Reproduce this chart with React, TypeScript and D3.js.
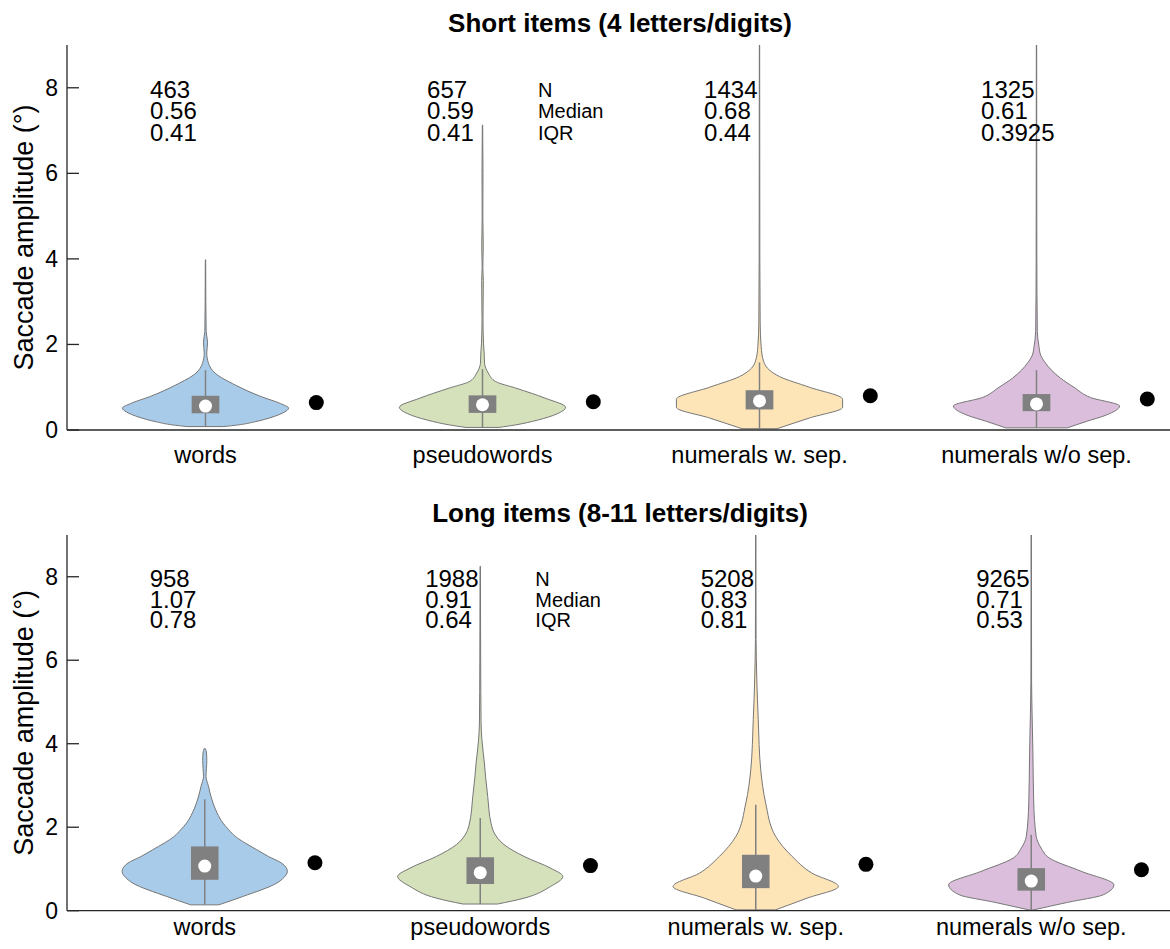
import * as d3 from "d3";

const categories = ["words", "pseudowords", "numerals w. sep.", "numerals w/o sep."];
const panelTitles = ["Short items (4 letters/digits)", "Long items (8-11 letters/digits)"];
const yTicks = [0, 2, 4, 6, 8];
const statLabels = ["N", "Median", "IQR"];
const violinColors = ["#a9cbea", "#d5e1bb", "#fde5b8", "#dabedb"];

// short items
const shortN = [463, 657, 1434, 1325];
const shortMedian = [0.56, 0.59, 0.68, 0.61];
const shortIQR = [0.41, 0.41, 0.44, 0.3925];
const shortQ1 = [0.39, 0.4, 0.48, 0.44];
const shortQ3 = [0.8, 0.81, 0.93, 0.84];
const shortWhiskerLo = [0.08, 0.06, 0.03, 0.05];
const shortWhiskerHi = [1.4, 1.42, 1.58, 1.4];
const shortMean = [0.64, 0.66, 0.8, 0.725];

// [value, relative width]
const shortWordsDensity = [[0.08, 0.22], [0.12, 0.4], [0.19, 0.59], [0.3, 0.8], [0.42, 0.95], [0.51, 1.0], [0.62, 0.9], [0.78, 0.67], [1.05, 0.36], [1.33, 0.115], [1.56, 0.036], [1.8, 0.015], [2.05, 0.025], [2.3, 0.008], [3.0, 0.004], [3.98, 0.002]];
const shortPseudoDensity = [[0.06, 0.2], [0.12, 0.4], [0.23, 0.66], [0.38, 0.9], [0.53, 1.0], [0.74, 0.76], [0.98, 0.4], [1.13, 0.16], [1.33, 0.07], [1.56, 0.025], [1.8, 0.02], [2.03, 0.012], [2.6, 0.006], [3.5, 0.01], [3.8, 0.004], [4.3, 0.009], [5.0, 0.004], [6.0, 0.006], [7.13, 0.002]];
const shortSepDensity = [[0.03, 0.21], [0.28, 0.6], [0.53, 1.0], [0.72, 1.0], [1.0, 0.6], [1.25, 0.24], [1.4, 0.12], [1.6, 0.05], [1.95, 0.02], [2.5, 0.008], [4, 0.004], [9, 0.002]];
const shortNoSepDensity = [[0.05, 0.37], [0.2, 0.6], [0.35, 0.84], [0.56, 1.0], [0.76, 0.65], [1.0, 0.45], [1.21, 0.29], [1.4, 0.18], [1.56, 0.11], [1.75, 0.05], [1.95, 0.03], [2.3, 0.01], [4, 0.004], [9, 0.002]];

// long items
const longN = [958, 1988, 5208, 9265];
const longMedian = [1.07, 0.91, 0.83, 0.71];
const longIQR = [0.78, 0.64, 0.81, 0.53];
const longQ1 = [0.74, 0.64, 0.54, 0.48];
const longQ3 = [1.54, 1.28, 1.34, 1.02];
const longWhiskerLo = [0.14, 0.16, 0.02, 0.02];
const longWhiskerHi = [2.67, 2.22, 2.54, 1.82];
const longMean = [1.15, 1.08, 1.11, 0.98];

const longWordsDensity = [[0.14, 0.17], [0.34, 0.46], [0.66, 0.87], [0.8, 0.96], [0.94, 1.0], [1.14, 0.93], [1.3, 0.77], [1.46, 0.63], [1.62, 0.49], [1.78, 0.37], [1.94, 0.29], [2.1, 0.22], [2.34, 0.15], [2.58, 0.1], [2.82, 0.064], [2.98, 0.045], [3.22, 0.015], [3.4, 0.02], [3.6, 0.025], [3.8, 0.02], [3.88, 0.008]];
const longPseudoDensity = [[0.16, 0.21], [0.3, 0.53], [0.58, 0.85], [0.82, 1.0], [1.02, 0.85], [1.3, 0.53], [1.58, 0.29], [1.86, 0.17], [2.1, 0.13], [2.74, 0.09], [3.2, 0.065], [3.54, 0.05], [3.8, 0.035], [4.1, 0.02], [4.5, 0.01], [6, 0.005], [8.25, 0.002]];
const longSepDensity = [[0.02, 0.24], [0.3, 0.62], [0.58, 1.0], [0.9, 0.68], [1.3, 0.44], [1.78, 0.24], [2.58, 0.12], [3.38, 0.06], [4.58, 0.03], [5.6, 0.012], [6.5, 0.004], [9, 0.002]];
const longNoSepDensity = [[0.02, 0.03], [0.2, 0.44], [0.38, 0.87], [0.62, 1.0], [0.94, 0.61], [1.26, 0.22], [1.5, 0.12], [1.78, 0.06], [2.58, 0.03], [3.78, 0.02], [4.74, 0.01], [5.5, 0.004], [9, 0.002]];

const FONT = "'Liberation Sans', Arial, Helvetica, sans-serif";
const GRAY = "#808080";
const EDGE = "#767676";
const AXIS = "#262626";

const panels = [
  {
    title: panelTitles[0], titleY: 32, top: 45, zero: 430, step: 277, labelY: 463,
    n: shortN, median: shortMedian, iqr: shortIQR, q1: shortQ1, q3: shortQ3,
    lo: shortWhiskerLo, hi: shortWhiskerHi, mean: shortMean,
    density: [shortWordsDensity, shortPseudoDensity, shortSepDensity, shortNoSepDensity],
  },
  {
    title: panelTitles[1], titleY: 522, top: 535, zero: 910.7, step: 275.5, labelY: 935,
    n: longN, median: longMedian, iqr: longIQR, q1: longQ1, q3: longQ3,
    lo: longWhiskerLo, hi: longWhiskerHi, mean: longMean,
    density: [longWordsDensity, longPseudoDensity, longSepDensity, longNoSepDensity],
  },
];

function Panel({ p, idx }: { p: (typeof panels)[number]; idx: number }) {
  const left = 67;
  const x = d3.scaleLinear().domain([0.5, 4.5]).range([left, left + 4 * p.step]);
  const y = d3.scaleLinear().domain([0, 9]).range([p.zero, p.top]);
  const halfW = 0.3;
  const boxW = 0.05;
  const clipId = `clip-${idx}`;

  return (
    <g>
      <defs>
        <clipPath id={clipId}>
          <rect x={left} y={p.top} width={1170 - left} height={p.zero - p.top} />
        </clipPath>
      </defs>
      <text x={620} y={p.titleY} textAnchor="middle" fontFamily={FONT} fontWeight="bold" fontSize={26} fill="#000">
        {p.title}
      </text>

      <g clipPath={`url(#${clipId})`}>
        {p.density.map((dens, i) => {
          const c = i + 1;
          const area = d3
            .area<number[]>()
            .y((d) => y(d[0]))
            .x0((d) => x(c - d[1] * halfW))
            .x1((d) => x(c + d[1] * halfW))
            .curve(d3.curveMonotoneY);
          return (
            <g key={i}>
              <path d={area(dens) || ""} fill={violinColors[i]} stroke={EDGE} strokeWidth={1} />
              <line x1={x(c)} x2={x(c)} y1={y(p.lo[i])} y2={y(p.hi[i])} stroke={GRAY} strokeWidth={1.5} />
              <rect
                x={x(c - boxW)}
                y={y(p.q3[i])}
                width={x(c + boxW) - x(c - boxW)}
                height={y(p.q1[i]) - y(p.q3[i])}
                fill={GRAY}
              />
              <circle cx={x(c)} cy={y(p.median[i])} r={6.5} fill="#fff" />
              <circle cx={x(c + 0.4)} cy={y(p.mean[i])} r={7.5} fill="#000" />
            </g>
          );
        })}
      </g>

      {/* stats: N, median, IQR */}
      {categories.map((_, i) => {
        const c = i + 1;
        const vals = [String(p.n[i]), String(p.median[i]), String(p.iqr[i])];
        return (
          <g key={`s${i}`} fontFamily={FONT} fontSize={24} fill="#000">
            {vals.map((v, k) => (
              <text key={k} x={x(c - 0.2)} y={y(8 - k * 0.5) + 10}>
                {v}
              </text>
            ))}
          </g>
        );
      })}
      <g fontFamily={FONT} fontSize={20} fill="#000">
        {statLabels.map((s, k) => (
          <text key={k} x={x(2.2)} y={y(8 - k * 0.5) + 9}>
            {s}
          </text>
        ))}
      </g>

      {/* axes */}
      <line x1={left} x2={left} y1={y(0)} y2={y(9)} stroke={AXIS} strokeWidth={1.3} />
      <line x1={left} x2={1170} y1={y(0)} y2={y(0)} stroke={AXIS} strokeWidth={1.3} />
      {yTicks.map((t) => (
        <g key={t}>
          <line x1={left} x2={left + 12} y1={y(t)} y2={y(t)} stroke={AXIS} strokeWidth={1.3} />
          <text x={left - 9} y={y(t) + 8} textAnchor="end" fontFamily={FONT} fontSize={23} fill="#000">
            {t}
          </text>
        </g>
      ))}
      {categories.map((cat, i) => (
        <text key={cat} x={x(i + 1)} y={p.labelY} textAnchor="middle" fontFamily={FONT} fontSize={23.5} fill="#000">
          {cat}
        </text>
      ))}
      <text
        transform={`translate(33, ${(y(0) + y(9)) / 2}) rotate(-90)`}
        textAnchor="middle"
        fontFamily={FONT}
        fontSize={27}
        fill="#000"
      >
        Saccade amplitude (°)
      </text>
    </g>
  );
}

export default function App() {
  return (
    <svg
      width={1170}
      height={949}
      style={{ position: "absolute", left: 0, top: 0, background: "#fff" }}
    >
      <rect width={1170} height={949} fill="#fff" />
      {panels.map((p, i) => (
        <Panel key={i} p={p} idx={i} />
      ))}
    </svg>
  );
}
